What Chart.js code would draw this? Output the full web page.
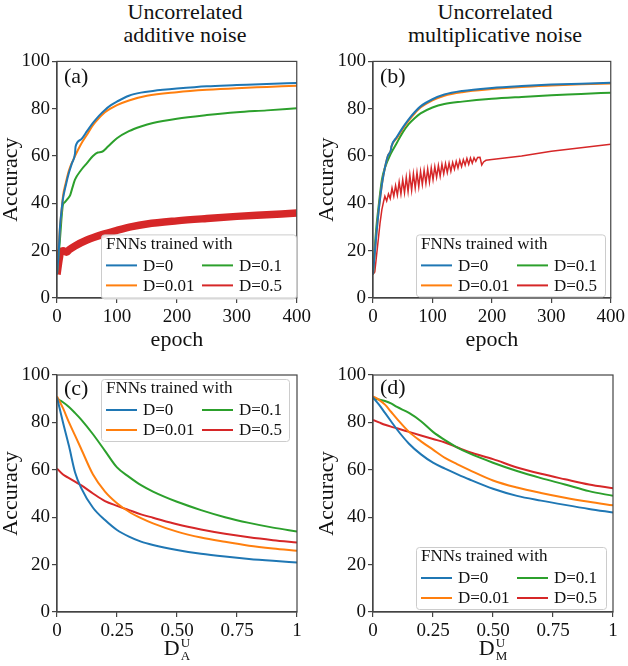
<!DOCTYPE html>
<html>
<head>
<meta charset="utf-8">
<script src="https://cdn.jsdelivr.net/npm/chart.js@4"></script>
<style>
  body { margin: 0; background: #fff; width: 628px; height: 666px; position: relative; overflow: hidden; font-family: "Liberation Serif", serif; }
  .col-title { position: absolute; width: 260px; font-size: 22px; line-height: 23px; text-align: center; color: #111; }
  canvas { position: absolute; }
</style>
</head>
<body>
<div class="col-title" style="left:55px; top:0">Uncorrelated<br>additive noise</div>
<div class="col-title" style="left:365px; top:0">Uncorrelated<br>multiplicative noise</div>
<canvas id="pa" width="314" height="312" style="left:0; top:48px"></canvas>
<canvas id="pb" width="314" height="312" style="left:314px; top:48px"></canvas>
<canvas id="pc" width="314" height="306" style="left:0; top:360px"></canvas>
<canvas id="pd" width="314" height="306" style="left:314px; top:360px"></canvas>
<script>
// series labels / colours (matplotlib tab10)
const seriesLabels = ["D=0", "D=0.01", "D=0.1", "D=0.5"];
const seriesColors = ["#1f77b4", "#ff7f0e", "#2ca02c", "#d62728"];
const legendTitle = "FNNs trained with";

const epochTicks = [0, 100, 200, 300, 400];
const accTicks = [0, 20, 40, 60, 80, 100];
const noiseTicks = [0, 0.25, 0.5, 0.75, 1];
const noiseTickLabels = ["0", "0.25", "0.50", "0.75", "1"];

// (a) additive noise, accuracy vs epoch
const aEpochD0 = [0, 3, 5, 8, 10, 15, 20, 25, 30, 31, 40, 50, 60, 70, 80, 90, 100, 120, 140, 160, 200, 250, 300, 350, 400];
const aAccD0   = [10, 20, 30, 38, 42, 48, 53, 57, 61, 64, 67, 70.5, 74, 77, 79.5, 81.5, 83, 85.5, 86.8, 87.5, 88.5, 89.5, 90, 90.5, 90.9];
const aEpochD001 = [0, 3, 5, 8, 10, 15, 20, 30, 40, 50, 60, 70, 80, 100, 120, 150, 200, 250, 300, 350, 400];
const aAccD001   = [10, 22, 30, 38, 43, 49, 54, 60, 65, 69, 73, 76, 78.5, 81.5, 83.5, 85.5, 87, 88, 88.7, 89.2, 89.7];
const aEpochD01 = [0, 5, 8, 10, 13, 18, 22, 25, 30, 40, 50, 60, 68, 75, 85, 100, 120, 140, 160, 200, 250, 300, 350, 400];
const aAccD01   = [10, 25, 35, 39.5, 40.5, 42, 43.5, 46, 50, 54, 57, 60, 61.5, 61.8, 64, 67.5, 70.5, 72.5, 74, 75.8, 77.3, 78.5, 79.3, 80.2];
const aEpochD05 = [0, 4, 6, 10, 16, 20, 30, 50, 75, 100, 125, 150, 200, 250, 300, 350, 400];
const aAccD05   = [10, 17, 19.5, 20, 19.3, 20.3, 22, 24.5, 26.8, 28.6, 30.2, 31.3, 32.6, 33.6, 34.5, 35.2, 35.9];

// (b) multiplicative noise, accuracy vs epoch
const bEpochD0 = [0, 5, 10, 15, 20, 25, 30, 31, 40, 50, 60, 70, 80, 100, 120, 150, 200, 250, 300, 350, 400];
const bAccD0   = [10, 25, 38, 48, 55, 60, 62.5, 64, 68, 72, 75.5, 78.5, 81, 84, 86, 87.5, 88.8, 89.6, 90.2, 90.6, 91];
const bEpochD001 = [0, 5, 10, 15, 20, 25, 30, 31, 40, 50, 60, 70, 80, 100, 120, 150, 200, 250, 300, 350, 400];
const bAccD001   = [10, 25, 38, 48, 55, 60, 62.5, 64, 67.5, 71.5, 75, 78, 80.5, 83.5, 85.5, 87, 88.3, 89.2, 89.8, 90.3, 90.7];
const bEpochD01 = [0, 5, 10, 15, 20, 30, 40, 50, 60, 70, 80, 100, 120, 150, 200, 250, 300, 350, 400];
const bAccD01   = [10, 28, 40, 50, 55, 61, 65.5, 70, 73.5, 76, 78, 80.5, 82, 83, 84.2, 85, 85.7, 86.2, 86.8];
const bEpochD05 = [0, 3, 6, 9, 12, 15, 18, 20, 23, 26, 29, 32, 35, 38, 41, 44, 47, 50, 53, 56, 59, 62, 65, 68, 71, 74, 77, 80,
                   83, 86, 89, 92, 95, 98, 101, 104, 107, 110, 113, 116, 119, 122, 125, 128, 131, 134, 137, 140, 143, 146,
                   149, 152, 155, 158, 161, 164, 167, 170, 173, 176, 180, 183, 186, 190, 200, 250, 300, 350, 400];
const bAccD05   = [10, 11, 18, 25, 32, 37.5, 41, 43, 41, 44, 42, 46.5, 43, 47.5, 43.5, 49, 44, 50, 44.5, 51, 45, 52, 45.5, 52.5, 46.5, 53, 47, 53.5,
                   48, 54, 48.5, 54.5, 49, 55, 50, 55.5, 51, 56, 51.5, 56.5, 52.5, 56.8, 53, 57, 53.5, 57.3, 54.5, 57.8, 55, 58.2,
                   55.5, 58.5, 56.2, 59, 56.5, 59.2, 57, 59.3, 57.8, 59.4, 59.5, 56.2, 57.5, 58.2, 58.5, 60, 62, 63.5, 65];

// (c), (d) accuracy vs test noise intensity
const noiseLevels = [0, 0.025, 0.05, 0.075, 0.1, 0.15, 0.2, 0.25, 0.3, 0.35, 0.4, 0.5, 0.6, 0.7, 0.8, 0.9, 1];
const cAccD0   = [90.5, 80, 70, 59, 52.5, 44, 38.8, 34.6, 31.8, 29.7, 28.3, 26.2, 24.6, 23.4, 22.4, 21.6, 20.9];
const cAccD001 = [91, 86, 80, 74.5, 69, 58, 50.8, 45.9, 42.3, 39.6, 37.4, 33.9, 31.4, 29.6, 28, 26.8, 25.8];
const cAccD01  = [90, 88.5, 86.5, 84, 81.3, 75, 68, 61, 57, 53.5, 50.8, 46.5, 43, 40, 37.6, 35.6, 34];
const cAccD05  = [60.5, 58, 56.5, 55, 53.5, 50, 46.8, 44.8, 43, 41.2, 39.8, 37, 34.8, 33, 31.5, 30.3, 29.3];
const dAccD0   = [90.5, 87.5, 84, 80.5, 77, 71, 66.5, 63, 60.5, 58.2, 56, 52, 49, 47, 45.2, 43.5, 42];
const dAccD001 = [91, 89.5, 87.5, 84.5, 81.5, 76, 72, 68.5, 65, 62.4, 60, 55.5, 52.5, 50.2, 48.2, 46.5, 45];
const dAccD01  = [90, 89.7, 89, 88, 86.5, 84, 80.5, 76, 72.5, 69.5, 67, 63, 59.5, 56.5, 53.8, 51, 49];
const dAccD05  = [81, 80, 79, 78.2, 77.5, 76, 74.5, 73, 71.5, 69.5, 67.5, 64.5, 61, 58.3, 56, 53.8, 52.2];

const SERIF = '"Liberation Serif", "Times New Roman", serif';
const AXIS = "#444";

function pts(xs, ys) {
  return xs.map((x, i) => ({ x: x, y: ys[i] }));
}

// top/right spines
const framePlugin = {
  id: "frame",
  afterDatasetsDraw(chart) {
    const { ctx, chartArea: a } = chart;
    ctx.save();
    ctx.strokeStyle = AXIS;
    ctx.lineWidth = 1.2;
    ctx.strokeRect(a.left, a.top, a.right - a.left, a.bottom - a.top);
    ctx.restore();
  }
};

// panel tag like "(a)"
const tagPlugin = {
  id: "tag",
  afterDatasetsDraw(chart, args, o) {
    const { ctx, chartArea: a } = chart;
    ctx.save();
    ctx.font = "22px " + SERIF;
    ctx.fillStyle = "#111";
    ctx.textBaseline = "middle";
    ctx.fillText(o.text, a.left + 7, a.top + o.dy);
    ctx.restore();
  }
};

// matplotlib-like legend: title + two columns
const boxLegendPlugin = {
  id: "boxLegend",
  afterDatasetsDraw(chart, args, o) {
    const { ctx, chartArea: a } = chart;
    const x = a.left + o.dx, y = a.top + o.dy, w = o.w, h = o.h;
    ctx.save();
    ctx.beginPath();
    ctx.roundRect(x + 0.5, y + 0.5, w, h, 3);
    ctx.fillStyle = "rgba(255,255,255,0.85)";
    ctx.fill();
    ctx.strokeStyle = "#cccccc";
    ctx.lineWidth = 1;
    ctx.stroke();
    ctx.font = "17px " + SERIF;
    ctx.fillStyle = "#111";
    ctx.textBaseline = "middle";
    ctx.fillText(legendTitle, x + 5, y + 10);
    chart.data.datasets.forEach((ds, i) => {
      const cx = x + 5 + Math.floor(i / 2) * 96;
      const cy = y + 31 + (i % 2) * 20;
      ctx.strokeStyle = seriesColors[i];
      ctx.lineWidth = 2;
      ctx.beginPath();
      ctx.moveTo(cx, cy);
      ctx.lineTo(cx + 31, cy);
      ctx.stroke();
      ctx.fillStyle = "#111";
      ctx.fillText(ds.label, cx + 37, cy + 1);
    });
    ctx.restore();
  }
};

// x title D with sub/superscript
const subSupTitlePlugin = {
  id: "subSupTitle",
  afterDraw(chart, args, o) {
    if (!o.sub) return;
    const { ctx, chartArea: a } = chart;
    ctx.save();
    ctx.fillStyle = "#111";
    ctx.textBaseline = "alphabetic";
    ctx.font = "22px " + SERIF;
    const wD = ctx.measureText("D").width;
    ctx.font = "13px " + SERIF;
    const wS = Math.max(ctx.measureText(o.sub).width, ctx.measureText("U").width);
    const x0 = (a.left + a.right) / 2 - (wD + wS + 1) / 2;
    const base = a.bottom + o.dy;
    ctx.font = "22px " + SERIF;
    ctx.fillText("D", x0, base);
    ctx.font = "13px " + SERIF;
    ctx.fillText("U", x0 + wD + 1, base - 8);
    ctx.fillText(o.sub, x0 + wD + 1, base + 5);
    ctx.restore();
  }
};

function makePanel(id, datasets, cfg) {
  return new Chart(document.getElementById(id), {
    type: "line",
    data: { datasets: datasets },
    options: {
      responsive: false,
      animation: false,
      parsing: false,
      layout: { padding: { top: cfg.padTop, right: cfg.padRight, left: 0, bottom: 0 } },
      elements: { point: { radius: 0 } },
      scales: {
        x: {
          type: "linear",
          min: cfg.xTicks[0],
          max: cfg.xTicks[cfg.xTicks.length - 1],
          afterBuildTicks(s) { s.ticks = cfg.xTicks.map(v => ({ value: v })); },
          afterFit(s) { s.height = cfg.xH; },
          ticks: {
            autoSkip: false, maxRotation: 0, padding: 3, color: "#111",
            font: { family: SERIF, size: 19 },
            callback: (v, i) => cfg.xLabels ? cfg.xLabels[i] : String(v)
          },
          grid: { drawOnChartArea: false, drawTicks: true, tickLength: 5, color: AXIS, lineWidth: 1.2 },
          border: { display: true, color: AXIS, width: 1.2 },
          title: {
            display: !!cfg.xTitle, text: cfg.xTitle || "", color: "#111",
            font: { family: SERIF, size: 22, lineHeight: 1 }, padding: { top: 0, bottom: 9 }
          }
        },
        y: {
          min: 0, max: 100,
          afterBuildTicks(s) { s.ticks = accTicks.map(v => ({ value: v })); },
          afterFit(s) { s.width = cfg.yW; },
          ticks: { padding: 2, color: "#111", font: { family: SERIF, size: 19 } },
          grid: { drawOnChartArea: false, drawTicks: true, tickLength: 5, color: AXIS, lineWidth: 1.2 },
          border: { display: true, color: AXIS, width: 1.2 },
          title: {
            display: true, text: "Accuracy", color: "#111",
            font: { family: SERIF, size: 22, lineHeight: 1 }, padding: { top: cfg.yTitlePad, bottom: 0 }
          }
        }
      },
      plugins: {
        legend: { display: false },
        tooltip: { enabled: false },
        tag: { text: cfg.tag, dy: cfg.tagDy },
        boxLegend: cfg.legend,
        subSupTitle: { sub: cfg.sub, dy: 43 }
      }
    },
    plugins: [framePlugin, tagPlugin, boxLegendPlugin, subSupTitlePlugin]
  });
}

function ds(i, data, extra) {
  return Object.assign({
    label: seriesLabels[i], data: data, borderColor: seriesColors[i],
    borderWidth: 2, fill: false, cubicInterpolationMode: "monotone"
  }, extra || {});
}

makePanel("pa", [
  ds(0, pts(aEpochD0, aAccD0)),
  ds(1, pts(aEpochD001, aAccD001)),
  ds(2, pts(aEpochD01, aAccD01)),
  ds(3, pts(aEpochD05, aAccD05), { borderWidth: 7.5, borderCapStyle: "butt" })
], { padTop: 12, padRight: 17, xH: 62, yW: 57, xTicks: epochTicks, xTitle: "epoch", yTitlePad: 0,
     tag: "(a)", tagDy: 16, legend: { dx: 44, dy: 173, w: 195, h: 64 } });

makePanel("pb", [
  ds(0, pts(bEpochD0, bAccD0)),
  ds(1, pts(bEpochD001, bAccD001)),
  ds(2, pts(bEpochD01, bAccD01)),
  ds(3, pts(bEpochD05, bAccD05), { cubicInterpolationMode: "default", tension: 0, borderWidth: 1.5 })
], { padTop: 12, padRight: 15, xH: 62, yW: 59, xTicks: epochTicks, xTitle: "epoch", yTitlePad: 2,
     tag: "(b)", tagDy: 16, legend: { dx: 43, dy: 173, w: 189, h: 62 } });

makePanel("pc", [
  ds(0, pts(noiseLevels, cAccD0)),
  ds(1, pts(noiseLevels, cAccD001)),
  ds(2, pts(noiseLevels, cAccD01)),
  ds(3, pts(noiseLevels, cAccD05))
], { padTop: 15, padRight: 17, xH: 54, yW: 57, xTicks: noiseTicks, xLabels: noiseTickLabels, yTitlePad: 0,
     tag: "(c)", tagDy: 14, sub: "A", legend: { dx: 44, dy: 4, w: 188, h: 62 } });

makePanel("pd", [
  ds(0, pts(noiseLevels, dAccD0)),
  ds(1, pts(noiseLevels, dAccD001)),
  ds(2, pts(noiseLevels, dAccD01)),
  ds(3, pts(noiseLevels, dAccD05))
], { padTop: 15, padRight: 15, xH: 54, yW: 59, xTicks: noiseTicks, xLabels: noiseTickLabels, yTitlePad: 2,
     tag: "(d)", tagDy: 13, sub: "M", legend: { dx: 43, dy: 172, w: 190, h: 62 } });
</script>
</body>
</html>
